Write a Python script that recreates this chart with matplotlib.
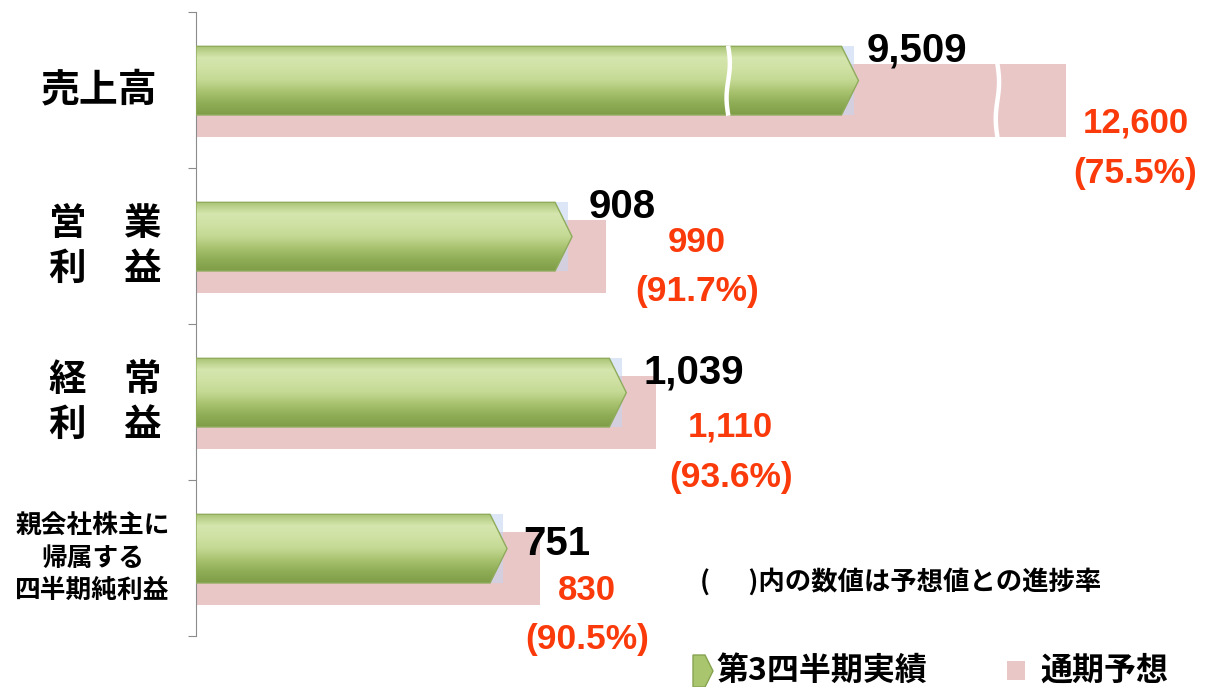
import numpy as np
import matplotlib
matplotlib.use("Agg")
import matplotlib.pyplot as plt
from matplotlib.patches import Polygon, Rectangle
from matplotlib.colors import LinearSegmentedColormap

# データ (百万円)
categories = ["売上高", "営　業\n利　益", "経　常\n利　益", "親会社株主に\n帰属する\n四半期純利益"]
actual = [9509, 908, 1039, 751]        # 第3四半期実績
forecast = [12600, 990, 1110, 830]     # 通期予想
progress = [75.5, 91.7, 93.6, 90.5]    # 進捗率 (%)

# 売上高は軸を省略して描く (波線の省略記号)
SALES_OFFSET, SALES_SCALE = 61, 0.1618
BREAK_GREEN, BREAK_PINK = 1285, 1935

JP = "Noto Sans CJK JP"
NUM = "Liberation Sans"
RED = "#fa3a0a"
PINK = "#e9c7c7"


def shown(i, v):
    # 売上高だけ縮めて表示
    return SALES_OFFSET + SALES_SCALE * v if i == 0 else v


fig = plt.figure(figsize=(12.09, 6.87), dpi=100)
ax = fig.add_axes([196 / 1209, 51 / 687, 994 / 1209, 624 / 687])

green_cmap = LinearSegmentedColormap.from_list(
    "grn", ["#a9c375", "#d5e6ae", "#cfe1a3", "#c3d993", "#a8c26f", "#8ead55", "#7f9d48"])
grad = np.linspace(0, 1, 256).reshape(-1, 1)

GH, GOFF = 0.44, -0.06    # 実績バーの高さと位置
PH, POFF = 0.47, 0.067    # 予想バーの高さと位置
TIP = 41

for i in range(len(categories)):
    a = shown(i, actual[i])
    f = shown(i, forecast[i])

    # 通期予想 (ピンク)
    ptop = i + POFF - PH / 2
    ax.add_patch(Rectangle((0, ptop), f, PH, facecolor=PINK, edgecolor="none", zorder=1))

    # 実績 (緑の矢印)
    yc = i + GOFF
    top, bot = yc - GH / 2, yc + GH / 2
    ax.add_patch(Rectangle((0, top), a - 10, GH, facecolor="#c6d6f0", alpha=0.6,
                           edgecolor="none", zorder=2))
    pts = [(0, top), (a - TIP, top), (a, yc), (a - TIP, bot), (0, bot)]
    poly = Polygon(pts, closed=True, facecolor="none", edgecolor="#8fab5c", lw=1.0, zorder=4)
    ax.add_patch(poly)
    im = ax.imshow(grad, cmap=green_cmap, extent=(0, a, bot, top), origin="upper",
                   aspect="auto", zorder=3)
    im.set_clip_path(poly)

    if i == 0:
        for xb, y0, h in [(BREAK_GREEN, top, GH), (BREAK_PINK, ptop, PH)]:
            yy = np.linspace(y0 - 0.005, y0 + h + 0.005, 40)
            xx = xb + 4 * np.sin(2 * np.pi * (yy - y0) / h)
            ax.plot(xx, yy, color="white", lw=3.2, zorder=5, solid_capstyle="butt")

# 数値ラベル (ピクセルでずらす)
black_off = [(8, 40), (17, 39), (17, 29), (16, 14)]
red_off = [(70, -33), (91, 4), (75, -25), (47, -32)]
for i in range(len(categories)):
    a = shown(i, actual[i])
    f = shown(i, forecast[i])
    ax.annotate(f"{actual[i]:,}", (a, i), xytext=black_off[i], textcoords="offset pixels",
                ha="left", va="center", fontsize=29, fontweight="bold", family=NUM,
                color="black", zorder=6)
    ax.annotate(f"{forecast[i]:,}", (f, i), xytext=red_off[i], textcoords="offset pixels",
                ha="center", va="center", fontsize=25, fontweight="bold", family=NUM,
                color=RED, zorder=6)
    ax.annotate(f"({progress[i]:.1f}%)", (f, i),
                xytext=(red_off[i][0], red_off[i][1] - 50), textcoords="offset pixels",
                ha="center", va="center", fontsize=25.5, fontweight="bold", family=NUM,
                color=RED, zorder=6)

# 項目名
label_size = [28, 27, 27, 18.5]
label_ls = [1.2, 1.2, 1.2, 1.25]
label_x = [-0.097, -0.091, -0.091, -0.104]
for i, lab in enumerate(categories):
    ax.text(label_x[i], i, lab, transform=ax.get_yaxis_transform(), ha="center", va="center",
            multialignment="center", fontsize=label_size[i], fontweight="bold", family=JP,
            linespacing=label_ls[i], clip_on=False)

ax.set_xlim(0, 2400)
ax.set_ylim(len(categories) - 0.5, -0.5)
for s in ["top", "right", "bottom"]:
    ax.spines[s].set_visible(False)
ax.spines["left"].set_color("#8c8c8c")
ax.set_xticks([])
ax.set_yticks(np.arange(len(categories) + 1) - 0.5)
ax.set_yticklabels([])
ax.tick_params(axis="y", length=6, color="#8c8c8c", direction="out")
ax.patch.set_visible(False)

# 注記と凡例
fig.text(700 / 1209, 1 - 582 / 687, "(　  )内の数値は予想値との進捗率", family=JP,
         fontweight="bold", fontsize=19, ha="left", va="center")

icon_pts = np.array([(693, 655), (705, 655), (713, 671), (705, 687), (693, 687)], float)
icon_pts[:, 1] = 687 - icon_pts[:, 1]
icon = Polygon(icon_pts / [1209, 687], closed=True, transform=fig.transFigure,
               facecolor="#a9c66e", edgecolor="#86a350", lw=1)
fig.patches.append(icon)
fig.text(716 / 1209, 1 - 671 / 687, "第3四半期実績", family=JP, fontweight="bold",
         fontsize=23, ha="left", va="center")
fig.patches.append(Rectangle((1007 / 1209, 1 - 680 / 687), 18 / 1209, 19 / 687,
                             transform=fig.transFigure, facecolor=PINK, edgecolor="none"))
fig.text(1040 / 1209, 1 - 671 / 687, "通期予想", family=JP, fontweight="bold",
         fontsize=23, ha="left", va="center")

fig.savefig("out.png", dpi=100, facecolor="white")
